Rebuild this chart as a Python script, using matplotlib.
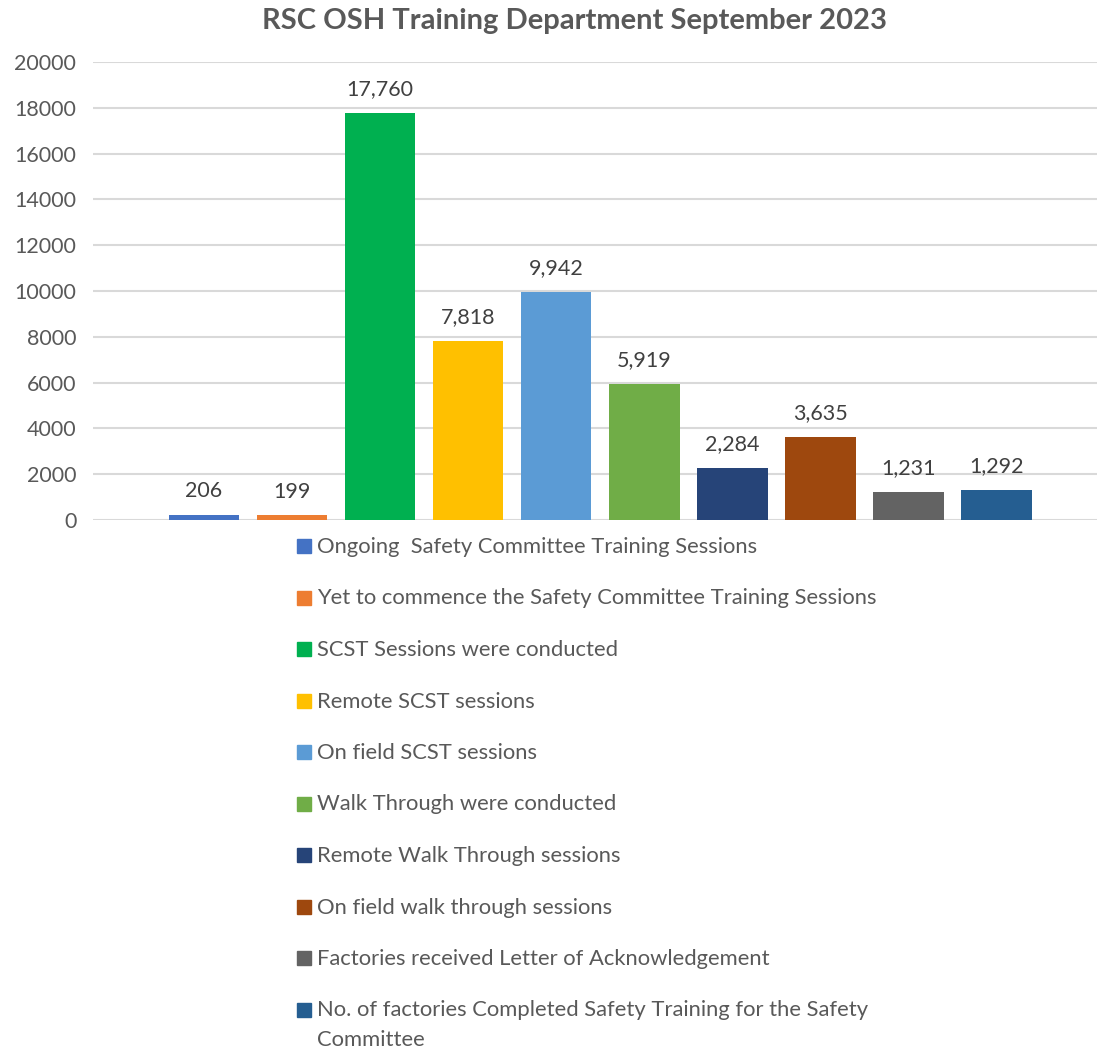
"""RSC OSH training department bar chart, September 2023."""

import matplotlib.pyplot as plt
from matplotlib.patches import Rectangle

labels = [
    "Ongoing  Safety Committee Training Sessions",
    "Yet to commence the Safety Committee Training Sessions",
    "SCST Sessions were conducted",
    "Remote SCST sessions",
    "On field SCST sessions",
    "Walk Through were conducted",
    "Remote Walk Through sessions",
    "On field walk through sessions",
    "Factories received Letter of Acknowledgement",
    "No. of factories Completed Safety Training for the Safety\nCommittee",
]
values = [206, 199, 17760, 7818, 9942, 5919, 2284, 3635, 1231, 1292]
colors = ["#4472C4", "#ED7D31", "#00B050", "#FFC000", "#5B9BD5",
          "#70AD47", "#264478", "#9E480E", "#636363", "#255E91"]
yticks = list(range(0, 20001, 2000))

W, H = 1097, 1051
plt.rcParams["font.family"] = ["Lato", "DejaVu Sans"]
TXT = "#595959"

fig = plt.figure(figsize=(W / 100, H / 100), dpi=100)
ax = fig.add_axes([93 / W, 1 - 520 / H, 1 - 93 / W, (520 - 62) / H])

xs = list(range(len(values)))
ax.bar(xs, values, width=0.8, color=colors, zorder=3)
for x, v in zip(xs, values):
    ax.annotate(f"{v:,}", (x, v), xytext=(0, 10), textcoords="offset points",
                ha="center", va="bottom", fontsize=15.5, color="#404040")

ax.set_xlim(-1.26, 10.14)
ax.set_ylim(0, 20000)
ax.set_yticks(yticks)
ax.set_yticklabels([str(t) for t in yticks])
ax.set_xticks([])
ax.grid(axis="y", color="#D9D9D9", linewidth=1.5, zorder=0)
ax.tick_params(axis="y", length=0, pad=12, labelsize=15.5, labelcolor=TXT)
for s in ax.spines.values():
    s.set_visible(False)

fig.text(575 / W, 1 - 21 / H, "RSC OSH Training Department September 2023",
         ha="center", va="center", fontsize=21, fontweight="bold", color=TXT)

# legend drawn by hand, one row per series
for i, (lab, c) in enumerate(zip(labels, colors)):
    yc = 546 + i * 51.5
    fig.patches.append(Rectangle((297 / W, 1 - (yc + 7) / H), 14 / W, 14 / H,
                                 transform=fig.transFigure, color=c))
    fig.text(317 / W, 1 - (yc - 9) / H, lab, ha="left", va="top",
             fontsize=15.8, color=TXT, linespacing=1.62)

fig.savefig("out.png", dpi=100)
